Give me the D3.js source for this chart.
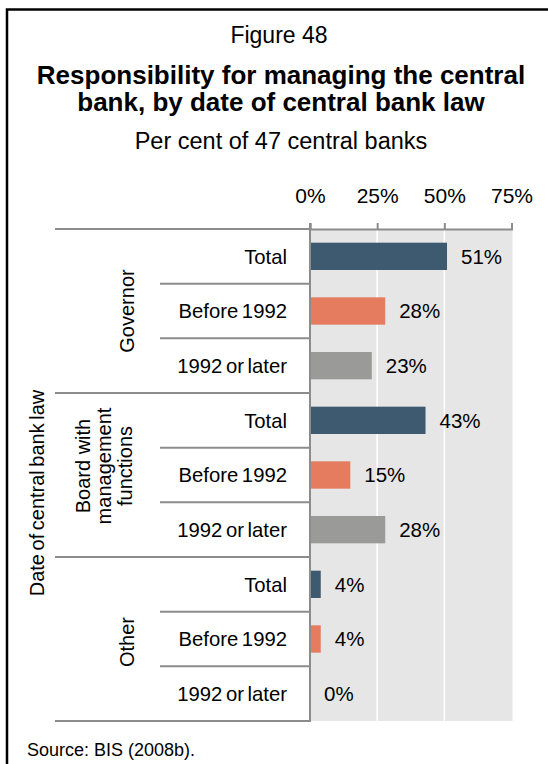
<!DOCTYPE html>
<html>
<head>
<meta charset="utf-8">
<script src="https://cdn.jsdelivr.net/npm/d3@7"></script>
<style>
  html, body { margin: 0; padding: 0; background: #fff; }
  svg { display: block; font-family: "Liberation Sans", Arial, sans-serif; }
</style>
</head>
<body>
<svg id="chart" width="548" height="764"></svg>
<script>
// ---- data ----
const groups = ["Governor", "Board with management functions", "Other"];
const groupLines = [["Governor"], ["Board with", "management", "functions"], ["Other"]];
const subcategories = ["Total", "Before 1992", "1992 or later"];
const governorValues = [51, 28, 23];
const boardValues = [43, 15, 28];
const otherValues = [4, 4, 0];
const tickValues = [0, 25, 50, 75];
const tickLabels = ["0%", "25%", "50%", "75%"];
const seriesColors = ["#3d5a70", "#e57b5f", "#9a9b98"];

const rows = [];
[governorValues, boardValues, otherValues].forEach((vals, gi) => {
  vals.forEach((v, si) => rows.push({ group: groups[gi], gi, sub: subcategories[si], si, value: v, key: gi + "-" + si }));
});

const svg = d3.select("#chart");
const font = '"Liberation Sans", Arial, sans-serif';

// border
svg.append("rect").attr("x", 7).attr("y", 9.5).attr("width", 600).attr("height", 800)
  .attr("fill", "none").attr("stroke", "#000").attr("stroke-width", 2.5);

// titles
svg.append("text").attr("x", 279).attr("y", 43).attr("text-anchor", "middle")
  .attr("font-size", 23).attr("fill", "#000").text("Figure 48");
svg.append("text").attr("x", 281).attr("y", 84).attr("text-anchor", "middle")
  .attr("font-size", 26).attr("font-weight", "bold").attr("fill", "#000").text("Responsibility for managing the central");
svg.append("text").attr("x", 281).attr("y", 111).attr("text-anchor", "middle")
  .attr("font-size", 26).attr("font-weight", "bold").attr("fill", "#000").text("bank, by date of central bank law");
svg.append("text").attr("x", 281).attr("y", 149).attr("text-anchor", "middle")
  .attr("font-size", 23.5).attr("fill", "#000").text("Per cent of 47 central banks");

// scales
const x = d3.scaleLinear().domain([0, 75]).range([310, 511.5]);
const y = d3.scaleBand().domain(rows.map(d => d.key)).range([229, 721])
  .paddingInner(0.5).paddingOuter(0.25);
const step = y.step();

// plot background
svg.append("rect").attr("x", x(0)).attr("y", 229).attr("width", x(75) - x(0) + 1).attr("height", 721 - 229)
  .attr("fill", "#e6e6e6");

// gridlines
svg.selectAll("line.grid").data(tickValues.filter(t => t > 0 && t < 75)).enter().append("line")
  .attr("x1", d => x(d)).attr("x2", d => x(d)).attr("y1", 229).attr("y2", 721)
  .attr("stroke", "#fff").attr("stroke-width", 1.5);

// bars
svg.selectAll("rect.bar").data(rows).enter().append("rect")
  .attr("x", x(0)).attr("y", d => y(d.key))
  .attr("width", d => x(d.value) - x(0)).attr("height", y.bandwidth())
  .attr("fill", d => seriesColors[d.si]);

// value labels
svg.selectAll("text.val").data(rows).enter().append("text")
  .attr("x", d => x(d.value) + 14).attr("y", d => y(d.key) + y.bandwidth() / 2)
  .attr("dy", "0.36em").attr("font-size", 20.5).attr("fill", "#000")
  .text(d => d.value + "%");

// top axis
const xAxis = d3.axisTop(x).tickValues(tickValues).tickFormat((d, i) => tickLabels[i]).tickSize(6).tickPadding(20);
const gx = svg.append("g").attr("transform", "translate(0,229)").call(xAxis);
gx.select(".domain").attr("stroke", "#8c8c8c").attr("stroke-width", 2);
gx.selectAll(".tick line").attr("stroke", "#8c8c8c").attr("stroke-width", 2);
gx.selectAll(".tick text").attr("font-size", 21).attr("font-family", font).attr("fill", "#000");

// row separators
const boundaries = d3.range(0, rows.length + 1).map(i => 229 + i * step);
svg.selectAll("line.sep").data(boundaries).enter().append("line")
  .attr("x1", (d, i) => (i % 3 === 0) ? 55 : 160).attr("x2", 310)
  .attr("y1", d => d).attr("y2", d => d)
  .attr("stroke", "#8c8c8c").attr("stroke-width", 2);

// left axis line
svg.append("line").attr("x1", 310).attr("x2", 310).attr("y1", 223).attr("y2", 722)
  .attr("stroke", "#8c8c8c").attr("stroke-width", 2);

// category labels
svg.selectAll("text.cat").data(rows).enter().append("text")
  .attr("x", 287).attr("y", d => y(d.key) + y.bandwidth() / 2)
  .attr("dy", "0.36em").attr("text-anchor", "end").attr("font-size", 20.3).attr("fill", "#000")
  .attr("word-spacing", "-2px")
  .text(d => d.sub);

// group labels (rotated)
const groupCenterOffsets = [0, -9, 3];
groupLines.forEach((lines, gi) => {
  const cy = 229 + (gi * 3 + 1.5) * step + groupCenterOffsets[gi];
  const lh = 21;
  const t = svg.append("text").attr("transform", `translate(${lines.length > 1 ? 104 : 127},${cy}) rotate(-90)`)
    .attr("text-anchor", "middle").attr("font-size", 20).attr("fill", "#000");
  lines.forEach((ln, li) => {
    t.append("tspan").attr("x", 0).attr("y", (li - (lines.length - 1) / 2) * lh).attr("dy", "0.36em").text(ln);
  });
});

// outer axis title
svg.append("text").attr("transform", "translate(37,493) rotate(-90)")
  .attr("text-anchor", "middle").attr("dy", "0.36em").attr("font-size", 20).attr("fill", "#000")
  .attr("word-spacing", "-2px")
  .text("Date of central bank law");

// source
svg.append("text").attr("x", 27).attr("y", 756).attr("font-size", 18).attr("fill", "#000")
  .text("Source: BIS (2008b).");
</script>
</body>
</html>
